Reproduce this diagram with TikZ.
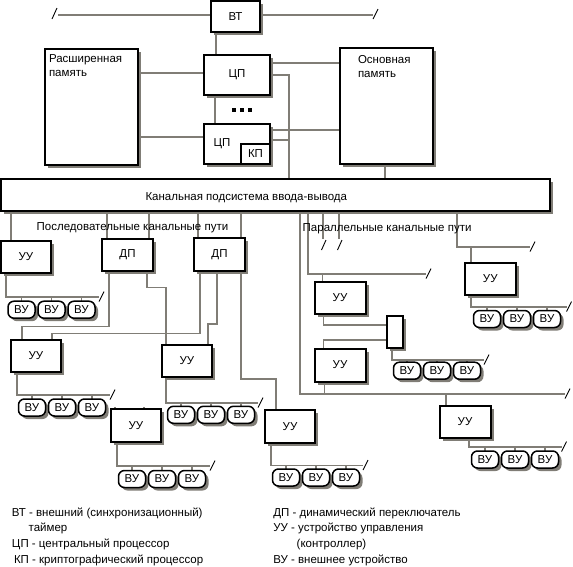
\documentclass[tikz,border=0pt]{standalone}
\usepackage{fontspec}
\setmainfont{Liberation Sans}
\usetikzlibrary{shadows,calc,backgrounds}
\definecolor{lg}{RGB}{128,125,118}
\newcommand\mkbox[6]{\node[blk,minimum width={#4-#2},minimum height={#5-#3}] (#1) at ({(#2+#4)/2},{(#3+#5)/2}) {#6};}
\newcommand\vunodes[3]{\foreach \i in {0,1,2}{\node[vu] (#1v\i) at ({#2+30*\i},#3) {ВУ};}}
\newcommand\vulines[4]{% #1 source node, #2 source x, #3 bus y, #4 end x
  \coordinate (#1e) at (#4,#3);
  \draw[gl] (#1.south -| #2,0) |- (#1e);
  \draw[busmark] (#1e) ++(0,4.5) -- ++(5,-10);
  \foreach \i in {0,1,2}{\draw[gl] (#1v\i.north) -- (#1v\i.north |- #1e);}}
\begin{document}
\begin{tikzpicture}[x=1pt,y=-1pt,
  font=\fontsize{11.5}{14}\selectfont,
  gl/.style={draw=lg,line width=1.5pt},
  plainbox/.style={draw=black,line width=2pt,fill=white,inner sep=0pt,outer sep=0pt},
  blk/.style={plainbox,drop shadow={shadow xshift=3pt,shadow yshift=-3pt,fill=lg,opacity=1}},
  vu/.style={blk,line width=1.5pt,rounded corners=6pt,minimum width=27pt,minimum height=17pt,
     drop shadow={shadow xshift=2pt,shadow yshift=-2pt,fill=lg,opacity=1}},
  busmark/.style={draw=black,line width=0.9pt},
  txt/.style={inner sep=0pt,outer sep=0pt},
  dot/.style={fill=black,minimum size=4pt,inner sep=0pt,outer sep=0pt}
]
\useasboundingbox (0,0) rectangle (573,566);
% ---- boxes
\mkbox{bt}{211}{1}{260}{32}{ВТ}
\mkbox{ep}{45}{49}{138}{165}{}
\node[txt,anchor=north west,align=left] (ept) at (49,54.5) {Расширенная\\память};
\mkbox{cp1}{204}{55}{270}{95}{ЦП}
\mkbox{cp2}{204}{124}{270}{164}{}
\node[txt] (cp2t) at (222,143.5) {ЦП};
\node[plainbox,minimum width=29pt,minimum height=20pt] (kp) at (255.5,154) {КП};
\node[dot] (d1) at (234,110) {};
\node[dot] (d2) at (242,110) {};
\node[dot] (d3) at (250,110) {};
\mkbox{om}{340}{48}{433}{164}{}
\node[txt,anchor=north west,align=left] (omt) at (358,55.5) {Основная\\память};
\mkbox{ch}{1}{179}{550}{211}{}
\node[txt,anchor=base west] (cht) at (145.5,200) {Канальная подсистема ввода-вывода};
\node[txt,anchor=base west] (seqt) at (36.7,230) {Последовательные канальные пути};
\node[txt,anchor=base west] (part) at (302.7,231) {Параллельные канальные пути};
\mkbox{uu1}{1}{241}{51}{273}{УУ}
\mkbox{dp1}{102}{239}{153}{271}{ДП}
\mkbox{dp2}{194}{238}{245}{271}{ДП}
\mkbox{uu2}{11}{340}{61}{372}{УУ}
\mkbox{uu3}{162}{345}{212}{377}{УУ}
\mkbox{uu4}{111}{409}{161}{441.5}{УУ}
\mkbox{uu5}{265}{410}{315}{443}{УУ}
\mkbox{uu6}{314.5}{282}{365.5}{314}{УУ}
\mkbox{uu7}{314.5}{348.5}{365.5}{381.5}{УУ}
\mkbox{sb}{387}{316}{403}{348}{}
\mkbox{uu8}{439.5}{406}{490.5}{438}{УУ}
\mkbox{uu9}{465}{263}{515.5}{295}{УУ}
\vunodes{uu1}{21.5}{309.7}
\vunodes{uu2}{32}{407.5}
\vunodes{uu3}{181}{414.8}
\vunodes{uu4}{132}{479}
\vunodes{uu5}{286}{477.5}
\vunodes{uu9}{487}{319}
\vunodes{sb}{407}{370.7}
\vunodes{uu8}{485}{459.5}
% ---- legend
\node[txt,anchor=base west] (l1) at (12,516) {ВТ - внешний (синхронизационный)};
\node[txt,anchor=base west] (l1b) at (28.7,531) {таймер};
\node[txt,anchor=base west] (l2) at (12,547) {ЦП - центральный процессор};
\node[txt,anchor=base west] (l3) at (14,563) {КП - криптографический процессор};
\node[txt,anchor=base west] (r1) at (273.3,516) {ДП - динамический переключатель};
\node[txt,anchor=base west] (r2) at (273.3,531) {УУ - устройство управления};
\node[txt,anchor=base west] (r2b) at (296.7,547) {(контроллер)};
\node[txt,anchor=base west] (r3) at (273.3,563) {ВУ - внешнее устройство};
% ---- connectors
\begin{scope}[on background layer]
\coordinate (bl) at (58,15);
\coordinate (br) at (373,15);
\draw[gl] (bl) -- (bl -| bt.west);
\draw[gl] (bt.east |- br) -- (br);
\draw[busmark] (bl) ++(-6,4) -- ++(5,-11);
\draw[busmark] (br) ++(0,4) -- ++(5,-10);
\draw[gl] (bt.south -| 216,0) -- (cp1.north -| 216,0);
\draw[gl] (cp1.south -| 215,0) -- (cp2.north -| 215,0);
\draw[gl] (ep.east |- 0,73) -- (cp1.west |- 0,73);
\draw[gl] (ep.east |- 0,137) -- (cp2.west |- 0,137);
\draw[gl] (cp1.east |- 0,63) -- (om.west |- 0,63);
\draw[gl] (cp2.east |- 0,130) -- (om.west |- 0,130);
\draw[gl] (cp1.east |- 0,75) -| (ch.north -| 289,0);
\draw[gl] (cp2.east |- 0,140) -- (289,140);
\draw[gl] (om.south -| 385,0) -- (ch.north -| 385,0);
% sequential
\draw[gl] (ch.south -| 11,0) -- (uu1.north -| 11,0);
\draw[gl] (ch.south -| 107,0) -- (dp1.north -| 107,0);
\draw[gl] (ch.south -| 149,0) -- (dp1.north -| 149,0);
\draw[gl] (ch.south -| 198,0) -- (dp2.north -| 198,0);
\draw[gl] (ch.south -| 241,0) -- (dp2.north -| 241,0);
\draw[gl] (dp1.south -| 109,0) |- (22,326.5) -- (uu2.north -| 22,0);
\draw[gl] (dp1.south -| 147,0) |- (166,287.5) -- (uu3.north -| 166,0);
\draw[gl] (dp2.south -| 200,0) |- (52,333.5) -- (uu2.north -| 52,0);
\draw[gl] (dp2.south -| 217,0) |- (208,324) -- (uu3.north -| 208,0);
\draw[gl] (dp2.south -| 241,0) |- (276,379) -- (uu5.north -| 276,0);
\draw[gl] (uu4.north -| 115,0) -- ++(0,-2);
\draw[gl] (uu4.north -| 144,0) -- ++(0,-2);
% parallel
\coordinate (p1) at (565,394);
\draw[gl] (ch.south -| 300,0) |- (p1);
\draw[busmark] (p1) ++(0,4.5) -- ++(5,-10);
\draw[gl] (uu7.south -| 324.5,0) -- (324.5,394);
\draw[gl] (446,394) -- (uu8.north -| 446,0);
\coordinate (p2) at (426,274);
\draw[gl] (ch.south -| 308,0) |- (p2);
\draw[busmark] (p2) ++(0,4.5) -- ++(5,-10);
\draw[gl] (322.5,274) -- (uu6.north -| 322.5,0);
\coordinate (p3) at (323,239);
\coordinate (p4) at (339,239);
\draw[gl] (ch.south -| p3) -- (p3);
\draw[gl] (ch.south -| p4) -- (p4);
\draw[busmark] (p3) ++(-1.5,11) -- ++(4.5,-10);
\draw[busmark] (p4) ++(-1.5,11) -- ++(4.5,-10);
\coordinate (p5) at (530,247);
\draw[gl] (ch.south -| 457,0) |- (p5);
\draw[busmark] (p5) ++(0,4.5) -- ++(5,-10);
\draw[gl] (471,247) -- (uu9.north -| 471,0);
\draw[gl] (uu6.south -| 323.5,0) |- (sb.west |- 0,325);
\draw[gl] (sb.west |- 0,340) -| (uu7.north -| 323.5,0);
% VU buses
\vulines{uu1}{6}{297}{99}
\vulines{uu2}{17}{395}{110}
\vulines{uu3}{166}{403}{258}
\vulines{uu4}{117}{466}{210}
\vulines{uu5}{271}{465.5}{363}
\vulines{uu9}{471}{307}{566.5}
\vulines{sb}{392}{360}{484}
\vulines{uu8}{469}{447}{561.5}
\end{scope}
\end{tikzpicture}
\end{document}
